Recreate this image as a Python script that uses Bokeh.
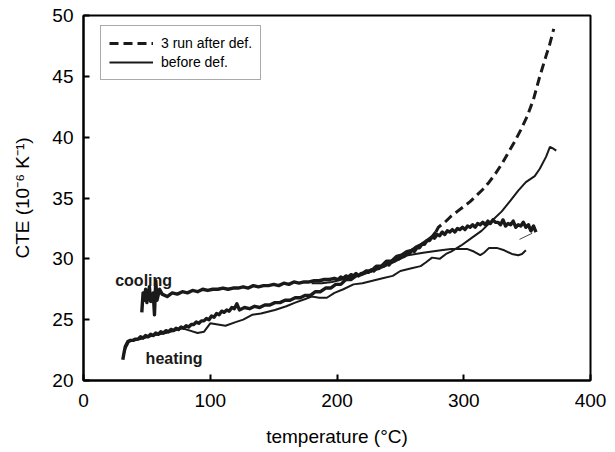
from bokeh.plotting import figure
from bokeh.models import Range1d, Legend, LegendItem, FixedTicker
from bokeh.core.properties import value
from bokeh.embed import file_html
from bokeh.resources import INLINE

# ---- data ----
x_ticks = [0, 100, 200, 300, 400]
y_ticks = [20, 25, 30, 35, 40, 45, 50]

# after deformation, heating (dense/noisy part, appears continuous)
heat_after_T = [31, 32, 33, 35, 37, 39, 41, 43, 45, 47, 49, 51, 53, 55, 57, 59, 61, 63, 65, 67, 69, 71, 73, 75,
                77, 79, 81, 83, 85, 87, 89, 91, 93, 95, 97, 99, 101, 103, 105, 107, 109, 111, 113, 115, 117, 119,
                121, 123, 127, 131, 135, 139, 143, 147, 151, 155, 159, 163, 167, 171, 175, 179, 183, 187, 191, 195,
                199, 203, 207, 211, 215, 219, 223, 227, 231, 235, 239, 243, 247, 251, 255, 259, 263, 267, 271, 275, 278]
heat_after_C = [21.7, 22.3, 22.8, 23.2, 23.3, 23.3, 23.4, 23.4, 23.6, 23.5, 23.7, 23.6, 23.8, 23.7, 23.9, 23.8, 24.0,
                23.9, 24.1, 24.0, 24.2, 24.1, 24.3, 24.2, 24.4, 24.3, 24.5, 24.4, 24.6, 24.6, 24.8, 24.7, 24.9, 24.9,
                25.1, 25.0, 25.3, 25.2, 25.5, 25.4, 25.7, 25.6, 25.8, 25.7, 26.0, 25.9, 26.3, 25.8, 26.0, 25.9, 26.1,
                26.0, 26.2, 26.2, 26.4, 26.4, 26.6, 26.6, 26.8, 26.8, 27.0, 27.0, 27.3, 27.3, 27.6, 27.6, 27.9, 27.9,
                28.3, 28.3, 28.6, 28.7, 29.0, 29.0, 29.4, 29.4, 29.8, 29.8, 30.2, 30.3, 30.6, 30.7, 31.0, 31.2, 31.5,
                31.8, 32.2]
# after deformation, heating (high-temperature dashed part)
heat_after_hi_T = [278, 280, 285, 290, 295, 300, 305, 310, 315, 320, 325, 330, 335, 340, 345, 350, 355, 360, 365, 368, 371]
heat_after_hi_C = [32.2, 32.6, 33.0, 33.5, 33.9, 34.3, 34.7, 35.2, 35.7, 36.3, 37.0, 37.8, 38.7, 39.6, 40.6, 41.7,
                   43.1, 45.0, 46.7, 47.7, 48.9]

# after deformation, cooling (noisy)
cool_after_T = [357, 355, 353, 351, 349, 347, 345, 343, 341, 339, 337, 335, 333, 331, 329, 327, 325, 323, 321, 319,
                317, 315, 313, 311, 309, 307, 305, 303, 301, 299, 297, 295, 293, 291, 289, 287, 285, 283, 281, 279,
                277, 275, 273, 271, 269, 267, 265, 263, 261, 259, 257, 255, 253, 251, 249, 247, 245, 243, 241, 239,
                237, 235, 233, 231, 229, 227, 225, 223, 221, 219, 217, 215, 213, 211, 209, 207, 205, 203, 201, 198,
                194, 190, 186, 182, 178, 174, 170, 166, 162, 158, 154, 150, 146, 142, 138, 134, 130, 126, 122, 118,
                114, 110, 106, 102, 98, 94, 90, 86, 82, 78, 74, 70, 66, 62, 60, 58, 57, 56, 55, 53, 52, 50, 49, 48,
                47, 46]
cool_after_C = [32.2, 32.7, 32.3, 32.8, 32.6, 33.0, 32.7, 32.8, 32.6, 33.1, 32.8, 32.9, 32.7, 33.2, 32.8, 33.0, 33.0,
                33.2, 32.9, 33.1, 32.8, 33.0, 32.8, 32.9, 32.6, 32.8, 32.6, 32.7, 32.4, 32.6, 32.4, 32.5, 32.2, 32.4,
                32.2, 32.3, 32.0, 32.2, 31.9, 32.0, 31.7, 31.8, 31.5, 31.5, 31.2, 31.2, 30.9, 30.9, 30.6, 30.7, 30.4,
                30.5, 30.2, 30.3, 30.0, 30.0, 29.8, 29.8, 29.5, 29.6, 29.4, 29.4, 29.2, 29.2, 29.0, 29.1, 28.9, 28.9,
                28.8, 28.8, 28.6, 28.8, 28.6, 28.7, 28.5, 28.6, 28.4, 28.5, 28.3, 28.4, 28.3, 28.3, 28.2, 28.2, 28.1,
                28.1, 28.0, 28.1, 27.9, 28.0, 27.8, 27.9, 27.8, 27.8, 27.7, 27.8, 27.6, 27.7, 27.6, 27.6, 27.5, 27.6,
                27.5, 27.5, 27.4, 27.5, 27.3, 27.4, 27.2, 27.3, 27.1, 27.2, 26.9, 27.1, 27.5, 26.6, 28.2, 25.4, 27.2,
                26.5, 27.7, 26.4, 27.5, 26.6, 27.2, 25.6]

# before deformation, heating
heat_before_T = [31, 33, 36, 45, 55, 65, 72, 78, 84, 90, 95, 100, 106, 112, 120, 126, 133, 140, 151, 160, 167, 175,
                 180, 186, 192, 198, 205, 213, 220, 228, 236, 244, 250, 258, 266, 270, 275, 281, 286, 290, 298, 306,
                 314, 321, 330, 337, 343, 349, 356, 360, 365, 368, 370, 373]
heat_before_C = [21.8, 22.6, 23.2, 23.4, 23.7, 23.9, 24.1, 24.3, 24.1, 23.9, 24.0, 24.7, 24.6, 24.5, 24.8, 25.0,
                 25.4, 25.5, 25.8, 26.1, 26.4, 26.7, 26.9, 26.8, 26.8, 27.2, 27.5, 27.9, 28.0, 28.2, 28.4, 28.6,
                 29.0, 29.2, 29.4, 29.7, 30.1, 30.0, 30.4, 30.6, 31.1, 31.7, 32.3, 33.0, 33.9, 34.8, 35.6, 36.3,
                 36.8, 37.4, 38.4, 39.2, 39.1, 38.9]

# before deformation, cooling
cool_before_T = [349, 346, 343, 338, 332, 326, 320, 316, 313, 308, 303, 297, 290, 282, 275, 268, 262, 256, 250,
                 244, 236, 228, 220, 212, 204, 196, 188, 180]
cool_before_C = [30.7, 30.4, 30.3, 30.4, 30.7, 30.9, 30.9, 30.5, 30.3, 30.6, 30.8, 30.8, 30.8, 30.7, 30.6, 30.5,
                 30.4, 30.3, 30.0, 29.7, 29.3, 29.0, 28.7, 28.5, 28.3, 28.1, 28.0, 28.0]

# thin segment near the end of the cooling run
thin_T = [344, 354]
thin_C = [31.6, 32.1]

legend_labels = ["3 run after def.", "before def."]
annot_text = ["cooling", "heating"]
annot_T = [25, 49]
annot_C = [28.2, 21.8]

FONT = "Liberation Sans"

p = figure(width=615, height=452, output_backend="svg", toolbar_location=None,
           x_range=Range1d(0, 400), y_range=Range1d(20, 50),
           min_border_left=83, min_border_right=25, min_border_top=15, min_border_bottom=72)
p.background_fill_color = "white"
p.border_fill_color = "white"
p.outline_line_color = "black"
p.outline_line_width = 2
p.xgrid.visible = False
p.ygrid.visible = False

for ax in (p.xaxis[0], p.yaxis[0]):
    ax.axis_line_color = "black"
    ax.axis_line_width = 2
    ax.major_tick_in = 6
    ax.major_tick_out = 0
    ax.major_tick_line_width = 2
    ax.minor_tick_line_color = None
    ax.major_label_text_font = FONT
    ax.major_label_text_font_size = "19px"
    ax.major_label_text_color = "black"
    ax.axis_label_text_font = FONT
    ax.axis_label_text_font_size = "19px"
    ax.axis_label_text_font_style = "normal"
    ax.axis_label_text_color = "black"

p.xaxis.ticker = FixedTicker(ticks=x_ticks)
p.yaxis.ticker = FixedTicker(ticks=y_ticks)
p.xaxis.axis_label = "temperature (°C)"
p.yaxis.axis_label = "CTE (10⁻⁶ K⁻¹)"
p.xaxis.major_label_standoff = 13
p.yaxis.major_label_standoff = 10
p.xaxis.axis_label_standoff = 16
p.yaxis.axis_label_standoff = 16

col = "#1a1a1a"
r_cool_after = p.line(cool_after_T, cool_after_C, line_color=col, line_width=3.4, line_join="round")
r_heat_after = p.line(heat_after_T, heat_after_C, line_color=col, line_width=3.4, line_join="round")
r_heat_after_hi = p.line(heat_after_hi_T, heat_after_hi_C, line_color=col, line_width=3, line_dash="9 5")
r_heat_before = p.line(heat_before_T, heat_before_C, line_color=col, line_width=2)
r_cool_before = p.line(cool_before_T, cool_before_C, line_color=col, line_width=2)
p.line(thin_T, thin_C, line_color=col, line_width=0.8)

p.text(x=annot_T, y=annot_C, text=annot_text, text_font=value(FONT), text_font_size="16px",
       text_font_style="bold", text_color=col, text_baseline="alphabetic", text_align="left")

legend = Legend(items=[LegendItem(label=legend_labels[0], renderers=[r_heat_after_hi]),
                       LegendItem(label=legend_labels[1], renderers=[r_heat_before])],
                location=(17, 300))
legend.label_text_font = FONT
legend.label_text_font_size = "14px"
legend.label_text_color = "black"
legend.glyph_width = 44
legend.glyph_height = 18
legend.label_height = 18
legend.label_standoff = 8
legend.padding = 8
legend.spacing = 1
legend.margin = 0
legend.border_line_color = "#555555"
legend.border_line_width = 1
legend.background_fill_color = "white"
legend.background_fill_alpha = 1
p.add_layout(legend, "center")

open("out.html", "w").write(file_html(p, INLINE))
